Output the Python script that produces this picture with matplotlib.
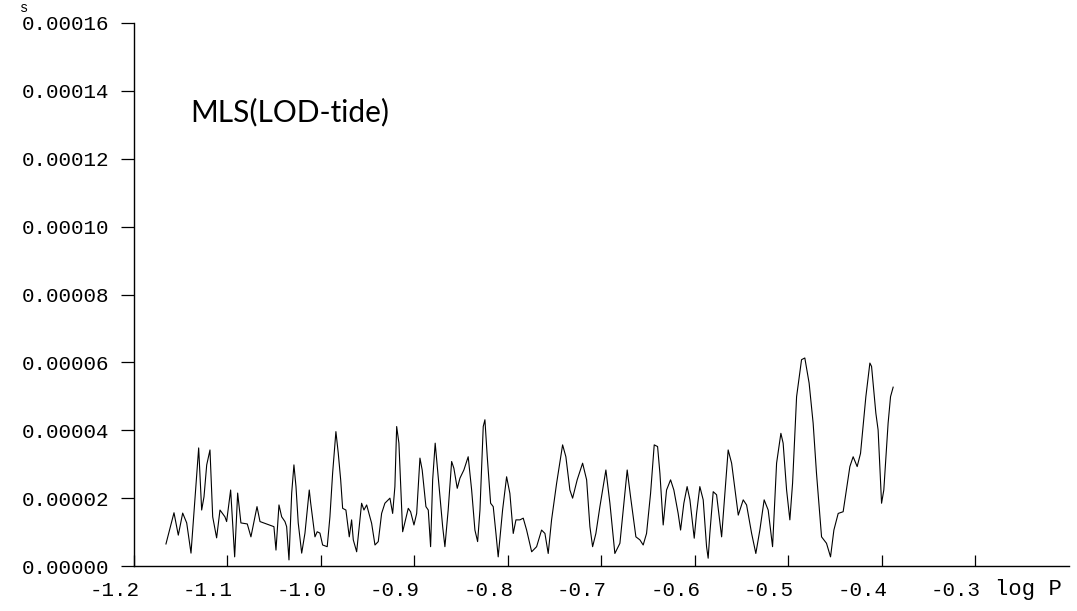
import numpy as np
import matplotlib.pyplot as plt
import matplotlib.transforms as mtrans

# spectrum: log P and amplitude (units of 1e-5 s)
logp = [-1.1658, -1.1572, -1.1526, -1.1479, -1.1436, -1.1390, -1.1348, -1.1308, -1.1276, -1.1251,
        -1.1222, -1.1187, -1.1158, -1.1116, -1.1080, -1.1027, -1.1009, -1.0966, -1.0923, -1.0891,
        -1.0856, -1.0788, -1.0749, -1.0684, -1.0652, -1.0581, -1.0503, -1.0481, -1.0449, -1.0420,
        -1.0385, -1.0367, -1.0342, -1.0313, -1.0289, -1.0267, -1.0243, -1.0206, -1.0171, -1.0125,
        -1.0110, -1.0064, -1.0040, -1.0011, -0.9982, -0.9933, -0.9904, -0.9875, -0.9840, -0.9815,
        -0.9789, -0.9768, -0.9733, -0.9697, -0.9672, -0.9654, -0.9618, -0.9565, -0.9540, -0.9511,
        -0.9458, -0.9422, -0.9387, -0.9351, -0.9316, -0.9280, -0.9262, -0.9233, -0.9209, -0.9190,
        -0.9166, -0.9126, -0.9066, -0.9041, -0.9005, -0.8976, -0.8941, -0.8917, -0.8877, -0.8852,
        -0.8827, -0.8805, -0.8778, -0.8746, -0.8698, -0.8674, -0.8639, -0.8602, -0.8578, -0.8542,
        -0.8513, -0.8471, -0.8425, -0.8388, -0.8353, -0.8324, -0.8299, -0.8264, -0.8246, -0.8221,
        -0.8185, -0.8157, -0.8128, -0.8104, -0.8057, -0.8014, -0.7979, -0.7943, -0.7914, -0.7872,
        -0.7836, -0.7800, -0.7746, -0.7693, -0.7640, -0.7604, -0.7569, -0.7533, -0.7479, -0.7415,
        -0.7380, -0.7337, -0.7308, -0.7259, -0.7201, -0.7158, -0.7123, -0.7094, -0.7059, -0.7016,
        -0.6952, -0.6909, -0.6856, -0.6802, -0.6724, -0.6688, -0.6631, -0.6588, -0.6553, -0.6517,
        -0.6474, -0.6435, -0.6399, -0.6374, -0.6339, -0.6303, -0.6260, -0.6225, -0.6179, -0.6153,
        -0.6118, -0.6083, -0.6053, -0.6007, -0.5982, -0.5947, -0.5911, -0.5875, -0.5858, -0.5840,
        -0.5804, -0.5768, -0.5714, -0.5644, -0.5607, -0.5536, -0.5483, -0.5447, -0.5393, -0.5348,
        -0.5305, -0.5259, -0.5216, -0.5169, -0.5126, -0.5080, -0.5056, -0.5019, -0.4984, -0.4955,
        -0.4912, -0.4859, -0.4824, -0.4778, -0.4735, -0.4699, -0.4645, -0.4592, -0.4549, -0.4513,
        -0.4467, -0.4414, -0.4342, -0.4307, -0.4264, -0.4228, -0.4171, -0.4128, -0.4110, -0.4064,
        -0.4040, -0.4003, -0.3979, -0.3933, -0.3907, -0.3879]
amp = [0.65, 1.57, 0.91, 1.56, 1.27, 0.38, 1.95, 3.48, 1.65, 2.04,
       2.98, 3.42, 1.45, 0.83, 1.65, 1.45, 1.31, 2.24, 0.27, 2.15,
       1.27, 1.24, 0.86, 1.75, 1.31, 1.24, 1.16, 0.47, 1.80, 1.45,
       1.31, 1.16, 0.18, 2.15, 2.98, 2.34, 1.27, 0.38, 0.97, 2.24,
       1.86, 0.86, 1.01, 0.97, 0.62, 0.57, 1.45, 2.74, 3.96, 3.33,
       2.54, 1.70, 1.65, 0.86, 1.36, 0.77, 0.42, 1.85, 1.65, 1.80,
       1.26, 0.62, 0.72, 1.55, 1.85, 1.95, 2.00, 1.55, 2.34, 4.11,
       3.62, 1.01, 1.70, 1.60, 1.21, 1.55, 3.18, 2.83, 1.75, 1.65,
       0.57, 2.54, 3.62, 2.63, 1.16, 0.57, 1.65, 3.08, 2.88, 2.29,
       2.59, 2.83, 3.22, 2.24, 1.06, 0.72, 1.65, 4.11, 4.31, 3.22,
       1.85, 1.75, 0.96, 0.27, 1.65, 2.63, 2.14, 0.96, 1.36, 1.36,
       1.41, 1.06, 0.42, 0.57, 1.06, 0.96, 0.37, 1.36, 2.44, 3.57,
       3.22, 2.24, 2.00, 2.54, 3.03, 2.54, 1.16, 0.57, 0.96, 1.75,
       2.83, 1.85, 0.37, 0.67, 2.83, 2.04, 0.86, 0.77, 0.62, 0.96,
       2.14, 3.57, 3.52, 2.73, 1.21, 2.24, 2.54, 2.24, 1.55, 1.06,
       1.85, 2.34, 1.95, 0.82, 1.55, 2.34, 1.95, 0.57, 0.23, 0.96,
       2.19, 2.10, 0.86, 3.42, 3.03, 1.50, 1.95, 1.80, 0.96, 0.37,
       1.06, 1.95, 1.65, 0.57, 3.03, 3.91, 3.62, 2.24, 1.36, 2.44,
       4.99, 6.08, 6.13, 5.39, 4.21, 2.73, 0.86, 0.67, 0.27, 1.06,
       1.55, 1.60, 2.93, 3.22, 2.93, 3.32, 4.99, 5.98, 5.88, 4.50,
       4.01, 1.85, 2.24, 4.21, 4.99, 5.27]

xticks = [-1.2, -1.1, -1.0, -0.9, -0.8, -0.7, -0.6, -0.5, -0.4, -0.3]
yticks = [0.0, 0.00002, 0.00004, 0.00006, 0.00008, 0.00010, 0.00012, 0.00014, 0.00016]

mono = "Liberation Mono"

fig = plt.figure(figsize=(10.77, 6.11), dpi=100)
ax = fig.add_axes([0.1244, 0.0736, 0.868, 0.8888])

ax.plot(logp, np.array(amp) * 1e-5, color="black", lw=0.8)

ax.set_xlim(-1.2, -0.2)
ax.set_ylim(0, 0.00016)
ax.spines["top"].set_visible(False)
ax.spines["right"].set_visible(False)
ax.spines["left"].set_linewidth(1.0)
ax.spines["bottom"].set_linewidth(1.0)

ax.set_xticks(xticks)
ax.set_xticklabels(["%.1f" % v for v in xticks], fontfamily=mono, fontsize=15)
ax.set_yticks(yticks)
ax.set_yticklabels(["%.5f" % v for v in yticks], fontfamily=mono, fontsize=15)
ax.tick_params(axis="x", direction="in", length=8, width=0.9, pad=11)
ax.tick_params(axis="y", direction="out", length=9.5, width=0.9, pad=8)

# x labels sit to the left of their ticks in the original
shift = mtrans.ScaledTranslation(4 / 72, 0, fig.dpi_scale_trans)
for lab in ax.get_xticklabels():
    lab.set_horizontalalignment("right")
    lab.set_transform(lab.get_transform() + shift)

fig.text(995 / 1077, 0.052, "log P", fontfamily=mono, fontsize=16, ha="left", va="top")
fig.text(20 / 1077, 1 - 15 / 611, "s", fontfamily=mono, fontsize=10, ha="left", va="bottom")

ax.text(-1.14, 0.0001336, "MLS(LOD-tide)", fontfamily="Lato", fontsize=21.5, va="center")

fig.savefig("out.png", dpi=100)
